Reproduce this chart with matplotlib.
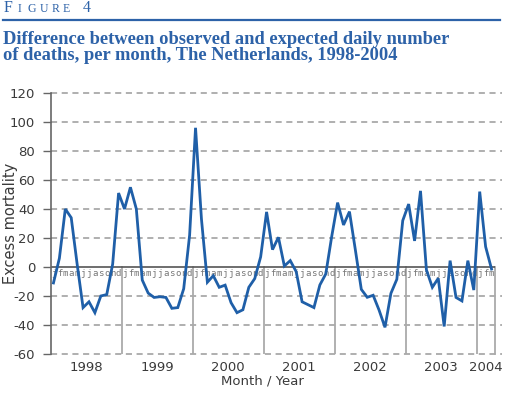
import matplotlib
matplotlib.use("Agg")
import matplotlib.pyplot as plt
import numpy as np

# ---- data ----
years = ["1998", "1999", "2000", "2001", "2002", "2003", "2004"]
month_letters = ["j", "f", "m", "a", "m", "j", "j", "a", "s", "o", "n", "d"]
excess_1998 = [-11, 6, 40, 34, 2, -28, -24, -31.5, -20, -19, 2, 51]
excess_1999 = [40, 55, 40, -9, -18, -21, -20.5, -21, -28.5, -28, -15, 22]
excess_2000 = [96, 33, -10.5, -6, -14, -12.5, -24.6, -31.5, -29.5, -14, -8, 7]
excess_2001 = [38, 12, 20.5, 0.7, 4.4, -3.2, -24, -26, -28, -12.4, -4.8, 21]
excess_2002 = [44.4, 29, 38.2, 11.7, -15.4, -20.9, -19.5, -29.7, -41.6, -18.2, -8.5, 32]
excess_2003 = [43.4, 18, 52.5, -2, -14, -7.8, -41, 4.4, -21, -23.4, 4.4, -15.9]
excess_2004 = [52, 14, -1.4]
yticks = [120, 100, 80, 60, 40, 20, 0, -20, -40, -60]

values = (excess_1998 + excess_1999 + excess_2000 + excess_2001 +
          excess_2002 + excess_2003 + excess_2004)
n = len(values)
x = np.arange(n) + 0.5

BLUE = "#1f5fa8"
TBLUE = "#2d62a8"
GRAY = "#9a9a9a"
TXT = "#3a3a3a"

W, H = 505, 394
fig = plt.figure(figsize=(W / 100, H / 100), dpi=100)

def fx(px):
    return px / W

def fy(py):
    return 1 - py / H

# ---- header ----
fig.text(fx(4), fy(12.5), "F", fontsize=11.5, family="Liberation Serif", color=TBLUE, va="baseline")
for ch, px in zip(["I", "G", "U", "R", "E"], [18, 28, 40, 52, 63]):
    fig.text(fx(px), fy(12.5), ch, fontsize=8.5, family="Liberation Serif", color=TBLUE, va="baseline")
fig.text(fx(83), fy(12.5), "4", fontsize=11.5, family="Liberation Serif", color=TBLUE, va="baseline")
fig.add_artist(plt.Line2D([fx(3), fx(500)], [fy(19.5), fy(19.5)], color=TBLUE, lw=1.6))
fig.text(fx(3), fy(43.5), "Difference between observed and expected daily number",
         fontsize=13.3, family="Liberation Serif", weight="bold", color=TBLUE, va="baseline")
fig.text(fx(3), fy(59.5), "of deaths, per month, The Netherlands, 1998-2004",
         fontsize=13.3, family="Liberation Serif", weight="bold", color=TBLUE, va="baseline")

# ---- axes ----
left, right, top, bottom = 50.5, 494.5, 93, 354
ax = fig.add_axes([fx(left), fy(bottom), (right - left) / W, (bottom - top) / H])
ax.set_xlim(0, n)
ax.set_ylim(-60, 120)

for s in ["top", "right", "bottom"]:
    ax.spines[s].set_visible(False)
ax.spines["left"].set_color("#666666")
ax.spines["left"].set_linewidth(1.2)

ax.set_yticks(yticks)
ax.set_yticklabels([str(t) for t in yticks])
ax.tick_params(axis="y", direction="out", length=6, width=1, color="#666666",
               labelsize=9.5, labelcolor=TXT, pad=5)
ax.set_xticks([])

# dashed grid lines
for t in yticks:
    if t == 0:
        continue
    ax.plot([0, n + 1.3], [t, t], ls=(0, (4, 3)), color=GRAY, lw=1.1, clip_on=False, zorder=1)
# zero line
ax.plot([0, n], [0, 0], color="#555555", lw=1.2, zorder=2)

# year separators
for k in range(1, 7):
    ax.plot([12 * k, 12 * k], [0, -60], color="#aaaaaa", lw=1.3, zorder=1)
ax.plot([n, n], [0, -60], color="#aaaaaa", lw=1.3, zorder=1, clip_on=False)

# month letters
for i in range(n):
    ax.text(x[i], -1.6, month_letters[i % 12], ha="center", va="top", fontsize=6.5,
            family="DejaVu Sans Mono", color="#777777", zorder=3)

# year labels
for k, yr in enumerate(years):
    if k < 6:
        cx = 12 * k + 6
    else:
        cx = 72 + 1.5
    ax.text(cx, -64.5, yr, ha="center", va="top", fontsize=9.5, color=TXT)

# data line
ax.plot(x, values, color=BLUE, lw=2.0, zorder=4, solid_joinstyle="miter")

fig.text(fx(262), fy(385), "Month / Year", ha="center", va="baseline", fontsize=9.5,
         color=TXT)
fig.text(fx(11), fy(223), "Excess mortality", ha="center", va="center", rotation=90,
         fontsize=10.5, color=TXT)

fig.savefig("out.png", dpi=100)
